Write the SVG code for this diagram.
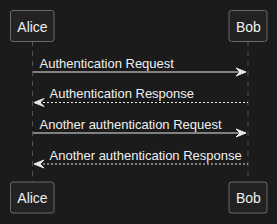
<svg xmlns="http://www.w3.org/2000/svg" width="277" height="224" viewBox="0 0 277 224">
<style>
.bg{fill:#1b1b1b}
.life{stroke:#8a8a8a;stroke-width:0.5;stroke-dasharray:5,5;fill:none}
.box{fill:#222222;stroke:#8a8a8a;stroke-width:0.7}
.t{font-family:"Liberation Sans",Arial,sans-serif;font-size:13px;fill:#f0f0f0}
.p{font-family:"Liberation Sans",Arial,sans-serif;font-size:14px;fill:#f0f0f0}
.msg{stroke:#e8e8e8;stroke-width:1;fill:none}
.dash{stroke-dasharray:2,2}
.head{fill:#e8e8e8;stroke:#e8e8e8;stroke-width:1}
</style>
<rect class="bg" x="0" y="0" width="277" height="224"/>
<g id="lifelines">
<line class="life" x1="32.5" y1="41" x2="32.5" y2="182"/>
<line class="life" x1="248" y1="41" x2="248" y2="182"/>
</g>
<g id="alice-top"><rect class="box" x="10.5" y="10.5" width="43.5" height="31" rx="2.5"/><text class="p" x="17.3" y="31.5">Alice</text></g>
<g id="bob-top"><rect class="box" x="229" y="10.5" width="38" height="31" rx="2.5"/><text class="p" x="236" y="31.5">Bob</text></g>
<g id="alice-bottom"><rect class="box" x="10.5" y="182" width="43.5" height="31" rx="2.5"/><text class="p" x="17.3" y="203">Alice</text></g>
<g id="bob-bottom"><rect class="box" x="229" y="182" width="38" height="31" rx="2.5"/><text class="p" x="236" y="203">Bob</text></g>
<g id="connectors">
<line class="msg" x1="33" y1="72" x2="246" y2="72"/>
<polygon class="head" points="236,68 246,72 236,76 240,72"/>
<text class="t" x="39.5" y="67.5">Authentication Request</text>
<line class="msg dash" x1="35" y1="102.5" x2="248" y2="102.5"/>
<polygon class="head" points="44,98.5 34,102.5 44,106.5 40,102.5"/>
<text class="t" x="49.5" y="98">Authentication Response</text>
<line class="msg" x1="33" y1="133" x2="246" y2="133"/>
<polygon class="head" points="236,129 246,133 236,137 240,133"/>
<text class="t" x="39.5" y="128.5">Another authentication Request</text>
<line class="msg dash" x1="35" y1="164" x2="248" y2="164"/>
<polygon class="head" points="44,160 34,164 44,168 40,164"/>
<text class="t" x="49.5" y="159.5">Another authentication Response</text>
</g>
</svg>
